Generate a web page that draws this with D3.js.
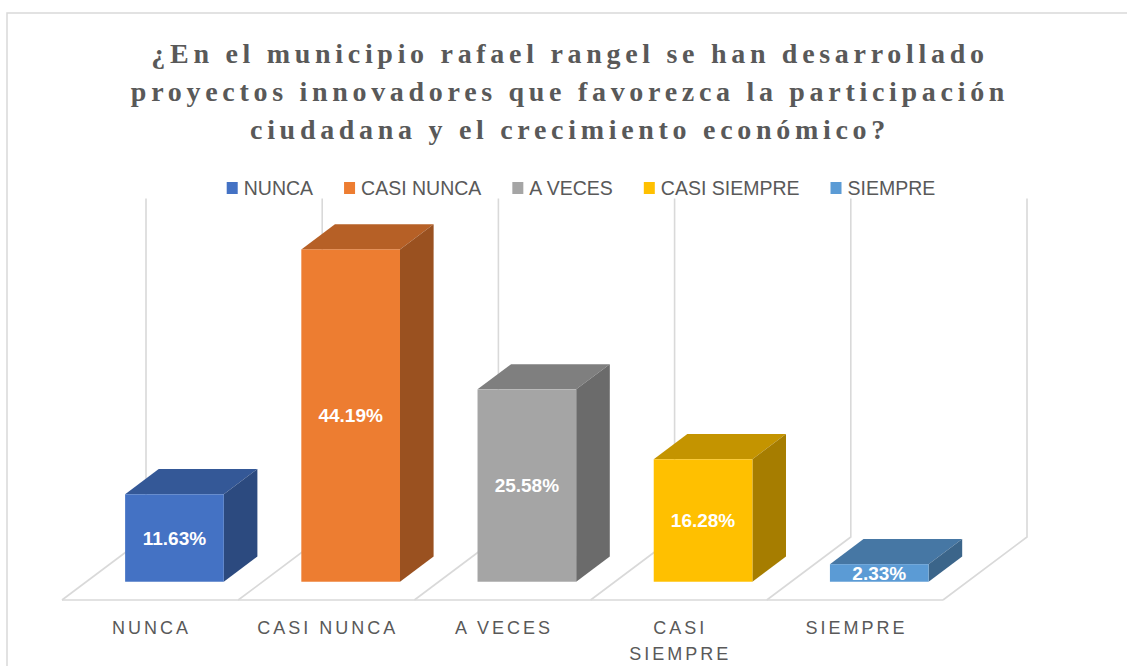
<!DOCTYPE html>
<html>
<head>
<meta charset="utf-8">
<title>Proyectos innovadores - municipio Rafael Rangel</title>
<style>
  body { margin: 0; background: #fff; }
  svg { display: block; }
  .title { font-family: 'Liberation Serif', 'Times New Roman', serif; font-weight: bold; fill: #595959; }
  .legend text, .cat text { font-family: 'Liberation Sans', Arial, sans-serif; fill: #595959; }
  .lbl { font-family: 'Liberation Sans', Arial, sans-serif; font-weight: bold; fill: #fff; }
  .grid { stroke: #d9d9d9; stroke-width: 1.6; fill: none; }
</style>
</head>
<body>
<div id="chart"></div>
<script src="https://d3js.org/d3.v7.min.js"></script>
<script>

// data
var categories = ["NUNCA", "CASI NUNCA", "A VECES", "CASI SIEMPRE", "SIEMPRE"];
var values = [11.63, 44.19, 25.58, 16.28, 2.33];
var colors = ["#4472C4", "#ED7D31", "#A5A5A5", "#FFC000", "#5B9BD5"];
var axisLabels = [["NUNCA"], ["CASI NUNCA"], ["A VECES"], ["CASI", "SIEMPRE"], ["SIEMPRE"]];
var titleLines = [
  "¿En el municipio rafael rangel se han desarrollado",
  "proyectos innovadores que favorezca la participación",
  "ciudadana y el crecimiento económico?"
];

var W = 1127, H = 666;

// floor front edge and depth vector of the 3d box
var floorY = 600, left = 62, right = 943;
var depth = {dx: 84, dy: -63};
var barDepth = [0.29, 0.69];   // fraction of the depth taken by the bars

var svg = d3.select("#chart").append("svg")
    .attr("width", W)
    .attr("height", H);

// chart area border
svg.append("rect")
    .attr("x", 7).attr("y", 13)
    .attr("width", W + 20).attr("height", H + 20)
    .attr("fill", "none")
    .attr("stroke", "#d9d9d9")
    .attr("stroke-width", 1.5);

// title
svg.append("text")
    .attr("class", "title")
    .attr("text-anchor", "middle")
    .style("font-size", "28px")
    .style("letter-spacing", "4.7px")
    .selectAll("tspan")
    .data(titleLines)
    .enter().append("tspan")
    .attr("x", 570)
    .attr("y", function(d, i) { return 63 + i * 38; })
    .text(function(d) { return d; });

var x = d3.scaleBand()
    .domain(categories)
    .range([left, right])
    .paddingInner(0.44)
    .paddingOuter(0.22);

var bx = d3.scaleLinear().domain([0, categories.length]).range([left, right]);

var h = d3.scaleLinear().domain([0, 45]).range([0, 338.4]);

function shade(c, k) {
  var r = d3.rgb(c);
  return d3.rgb(r.r * k, r.g * k, r.b * k).formatHex();
}

// floor and back wall lines
var grid = svg.append("g");
grid.append("line")
    .attr("class", "grid")
    .attr("x1", left).attr("x2", right)
    .attr("y1", floorY).attr("y2", floorY);

d3.range(categories.length + 1).forEach(function(i) {
  var x0 = bx(i);
  grid.append("polyline")
      .attr("class", "grid")
      .attr("points", [
        [x0, floorY],
        [x0 + depth.dx, floorY + depth.dy],
        [x0 + depth.dx, floorY + depth.dy - h(45)]
      ].join(" "));
});

// bars
var bars = svg.append("g");
categories.forEach(function(cat, i) {
  var v = values[i];
  var f0 = barDepth[0], f1 = barDepth[1];
  var x0 = x(cat) + depth.dx * f0;
  var x1 = x0 + x.bandwidth();
  var yb = floorY + depth.dy * f0;
  var yt = yb - h(v);
  var ox = depth.dx * (f1 - f0), oy = depth.dy * (f1 - f0);
  var g = bars.append("g");

  g.append("polygon")
      .attr("points", [[x0, yt], [x0 + ox, yt + oy], [x1 + ox, yt + oy], [x1, yt]].join(" "))
      .attr("fill", shade(colors[i], 0.77));
  g.append("polygon")
      .attr("points", [[x1, yt], [x1 + ox, yt + oy], [x1 + ox, yb + oy], [x1, yb]].join(" "))
      .attr("fill", shade(colors[i], 0.65));
  g.append("rect")
      .attr("x", x0).attr("y", yt)
      .attr("width", x.bandwidth())
      .attr("height", yb - yt)
      .attr("fill", colors[i]);

  g.append("text")
      .attr("class", "lbl")
      .attr("x", (x0 + x1) / 2)
      .attr("y", (yt + yb) / 2)
      .attr("dy", "0.36em")
      .attr("text-anchor", "middle")
      .style("font-size", "19px")
      .text(v.toFixed(2) + "%");
});

// category labels
var cat = svg.append("g").attr("class", "cat");
categories.forEach(function(c, i) {
  cat.append("text")
      .attr("text-anchor", "middle")
      .style("font-size", "18px")
      .style("letter-spacing", "3px")
      .selectAll("tspan")
      .data(axisLabels[i])
      .enter().append("tspan")
      .attr("x", x(c) + x.bandwidth() / 2 + 1.5)
      .attr("y", function(d, j) { return 634 + j * 26; })
      .text(function(d) { return d; });
});

// legend
var legend = svg.append("g").attr("class", "legend");
var lx = 0;
categories.forEach(function(c, i) {
  var item = legend.append("g").attr("transform", "translate(" + lx + ",0)");
  item.append("rect")
      .attr("x", 0).attr("y", 182)
      .attr("width", 11).attr("height", 12)
      .attr("fill", colors[i]);
  var t = item.append("text")
      .attr("x", 17).attr("y", 194.5)
      .style("font-size", "19.5px")
      .text(c);
  lx += 17 + t.node().getComputedTextLength() + 31;
});
lx -= 31;
legend.attr("transform", "translate(" + (581 - lx / 2) + ",0)");

</script>
</body>
</html>
